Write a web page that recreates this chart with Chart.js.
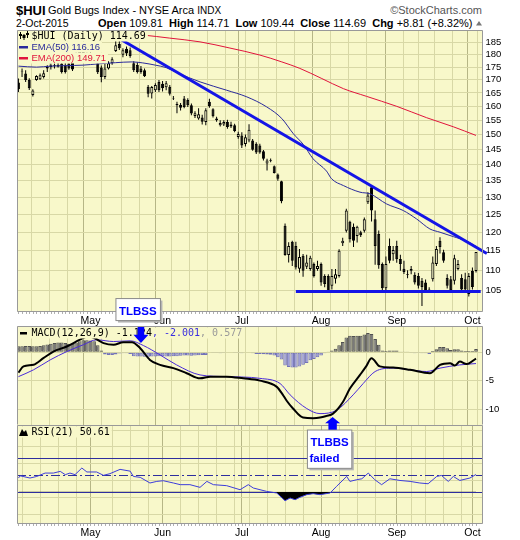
<!DOCTYPE html>
<html>
<head>
<meta charset="utf-8">
<title>$HUI Gold Bugs Index</title>
<script src="https://cdn.jsdelivr.net/npm/chart.js@4.4.1/dist/chart.umd.min.js"></script>
<style>
  html, body { margin: 0; background: #fff; overflow: hidden; }
  #page { position: relative; width: 520px; height: 540px; overflow: hidden; font-family: "Liberation Sans", Arial, sans-serif; }
  #page canvas { position: absolute; left: 0; }
  .t { position: absolute; white-space: nowrap; color: #000; }
  #notes { position: absolute; left: 0; top: 0; pointer-events: none; }
</style>
</head>
<body>
<div id="page">
  <div class="t" style="left:16px;top:4px;font-size:13px;line-height:13px;font-weight:bold">$HUI</div>
  <div class="t" style="left:48px;top:5px;font-size:11px;line-height:11px">Gold Bugs Index - NYSE Arca <span style="font-size:10px">INDX</span></div>
  <div class="t" style="right:38px;top:5px;font-size:11px;line-height:11px;color:#555">©StockCharts.com</div>
  <div class="t" style="left:16px;top:18px;font-size:10.5px;line-height:11px">2-Oct-2015</div>
  <div class="t" id="quote" style="left:98px;top:18px;font-size:11px;line-height:11px"></div>

  <canvas id="cPrice" width="520" height="296" style="top:30px"></canvas>
  <canvas id="cMacd" width="520" height="99" style="top:326px"></canvas>
  <canvas id="cRsi" width="520" height="115" style="top:425px"></canvas>
  <svg id="notes" width="520" height="540"></svg>
</div>
<script>
// daily bars, 2 Apr 2015 .. 2 Oct 2015 (128 trading days)
const open = [
  169.0,173.3,172.5,170.0,164.2,169.9,170.2,171.1,174.5,175.1,
  175.4,175.2,176.5,175.8,176.5,177.0,178.0,180.5,181.5,179.0,
  180.0,178.0,176.6,174.9,171.1,174.5,176.6,181.6,184.5,180.0,
  182.5,181.9,176.6,175.9,174.5,173.8,167.3,164.8,166.0,169.2,
  168.5,167.1,167.3,162.8,160.4,160.6,162.9,162.3,160.4,156.5,
  155.6,156.0,154.4,161.7,158.9,155.0,153.2,153.5,154.4,153.5,
  153.2,149.2,149.7,146.8,148.0,148.0,146.9,146.3,144.4,140.4,
  141.5,139.5,136.9,134.8,121.8,113.9,117.4,116.3,110.4,113.7,
  110.9,110.3,111.6,110.3,111.6,108.6,108.6,106.2,107.9,108.6,
  117.0,120.4,122.9,121.5,119.0,120.0,120.4,128.5,133.0,123.6,
  119.5,111.6,105.6,116.3,114.1,116.3,112.9,110.4,109.1,109.9,
  108.9,108.6,107.4,107.0,105.3,107.8,111.6,117.7,114.6,108.1,
  107.8,107.4,110.3,108.1,107.8,104.2,109.9,109.81
];
const high = [
  170.5,174.5,173.8,170.6,166.4,171.8,172.5,173.8,175.8,176.5,
  176.5,177.5,178.0,177.0,178.0,178.5,181.0,182.5,183.0,181.0,
  181.5,180.5,178.0,175.7,176.6,177.4,179.0,186.5,187.0,182.7,
  183.5,183.0,177.4,177.0,175.5,174.5,168.0,167.6,168.7,169.9,
  169.5,169.5,168.0,163.8,161.7,161.2,163.8,163.0,161.0,158.2,
  159.3,157.0,159.3,162.8,159.3,156.2,155.0,155.0,155.2,154.5,
  153.8,151.0,150.8,150.0,153.6,148.5,147.4,146.9,144.8,141.9,
  142.0,139.8,137.2,135.0,122.4,117.3,117.7,117.4,115.5,114.2,
  114.0,113.7,112.0,112.4,112.0,109.0,109.0,110.3,110.3,115.4,
  118.5,126.6,123.2,122.4,121.8,120.4,124.1,131.5,133.5,126.1,
  120.5,112.0,113.5,118.3,116.3,117.7,114.0,112.4,110.0,111.1,
  109.5,109.3,108.1,107.7,105.8,113.5,116.3,118.6,115.3,109.0,
  108.6,114.0,112.6,109.0,109.4,109.3,110.7,114.71
];
const low = [
  165.3,171.1,169.2,166.1,163.6,169.6,169.9,170.5,173.1,174.1,
  174.5,174.9,172.5,172.5,174.0,173.5,177.3,178.5,178.0,177.5,
  177.5,177.3,172.3,169.1,170.3,174.1,176.0,181.2,182.0,179.0,
  179.5,178.8,173.1,172.5,172.4,171.1,163.4,162.9,165.3,165.3,
  165.5,166.0,164.0,162.3,157.5,158.5,159.3,159.8,156.8,155.8,
  155.2,153.5,153.2,159.5,156.0,154.5,152.8,153.0,152.0,152.3,
  150.8,148.6,145.5,146.0,147.4,144.6,143.5,143.6,141.4,138.2,
  140.8,137.2,135.0,128.2,113.7,112.0,111.1,110.2,109.4,108.4,
  110.3,109.9,108.2,109.9,106.2,105.8,104.8,105.3,106.7,108.2,
  116.3,119.9,117.2,116.0,117.2,118.7,119.9,128.0,123.0,111.4,
  110.4,104.9,105.0,111.8,112.4,111.9,109.9,109.1,108.0,109.0,
  106.5,105.5,101.4,104.5,104.5,107.2,111.1,114.3,111.9,105.5,
  104.8,106.5,110.0,104.9,104.9,103.6,105.3,109.44
];
const close = [
  166.4,173.6,169.9,166.8,165.9,171.5,171.8,172.6,175.1,175.8,
  175.8,175.9,173.1,173.1,174.5,174.1,180.5,181.5,178.8,180.0,
  178.0,179.5,173.0,171.1,174.5,176.6,178.2,184.0,182.7,181.9,
  180.5,179.5,173.8,173.1,173.1,171.4,164.7,167.2,168.0,166.0,
  166.8,168.7,164.7,163.0,160.9,159.5,159.8,160.4,157.4,157.5,
  157.1,154.5,158.6,160.0,156.4,155.6,154.0,154.4,152.6,152.8,
  151.2,150.2,146.3,149.1,151.7,144.9,144.0,144.0,141.9,141.4,
  141.3,137.4,135.6,128.8,113.9,116.3,112.4,110.7,113.4,109.9,
  112.0,113.2,108.6,111.1,107.0,106.6,104.9,108.6,109.0,115.0,
  117.7,126.1,118.1,117.7,121.5,119.2,123.6,130.5,126.1,116.3,
  111.3,105.6,111.6,112.4,115.2,112.8,111.6,109.6,108.9,110.3,
  107.0,106.2,105.9,104.9,105.1,112.0,115.5,116.0,112.4,106.2,
  105.1,113.1,111.6,105.3,105.3,108.6,105.88,114.69
];

// [day index, value]
const ema50 = [[0,175.4],[5,175.0],[9,175.4],[13,175.6],[18,175.8],[22,176.3],[27,176.8],[31.5,177.1],
  [34.5,176.7],[38,175.8],[41,174.8],[44,172.8],[50.4,169.2],[57.8,166.0],[63.4,163.5],[68.9,159.8],
  [73.1,155.6],[76.3,150.3],[79.1,146.6],[81.8,141.9],[85.5,138.0],[86.9,135.6],[90.2,133.5],[94.8,131.5],
  [97.6,131.0],[102.2,128.0],[106.8,126.1],[110.5,123.7],[114.2,120.9],[117,120.0],[120.7,118.8],
  [124.4,117.6],[127,116.16]];
const ema200 = [[0,194.0],[8,192.2],[15,190.4],[20,190.0],[27,189.3],[34.7,188.3],[42,187.0],[50.4,185.4],
  [58.7,182.8],[67,179.9],[73.1,177.1],[78.1,174.5],[84.2,170.5],[90.2,166.6],[96.6,163.7],[105,160.0],
  [113.3,155.9],[120.7,152.7],[127,149.71]];
const trendLine = [[26.8,187.9],[130,114.3]];
const supportLine = [[77,104.8],[128.3,104.8]];

const macdLine = [[0,-3.6],[1.4,-2.5],[4.2,-2.2],[6.9,-1.06],[9.7,0.1],[13.4,1.0],[17.1,2.2],[19.5,2.8],
  [21.3,2.4],[23.6,1.6],[26.4,1.3],[29.1,1.76],[31.5,1.76],[33.8,0.7],[36.5,-1.36],[39.3,-2.24],[43,-2.8],
  [46.7,-3.7],[50.4,-4.6],[53.2,-4.3],[57.8,-4.3],[62.4,-4.6],[67,-5.0],[71.7,-6.1],[73.4,-7.5],[74.4,-8.5],
  [76.2,-9.9],[79,-11.5],[81.8,-11.6],[83.7,-11.5],[85.5,-11.2],[87.3,-10.8],[90.1,-8.7],[92,-6.4],
  [94.8,-4.0],[96.5,-2.5],[98,-1.06],[100.3,-2.5],[104,-2.7],[108.7,-3.1],[114.2,-3.7],[117,-2.24],
  [119.8,-1.94],[121.1,-2.36],[122.5,-1.66],[124.4,-2.1],[127,-1.12]];
const signalLine = [[0,-4.3],[4.2,-3.1],[8.8,-1.36],[13.4,0.1],[18,1.3],[21.7,2.17],[26.4,1.87],[31,2.0],
  [34.7,1.16],[39.3,-0.48],[43.9,-2.24],[50.4,-4.0],[57.8,-4.3],[67,-4.6],[72.6,-5.5],[75.4,-7.5],[80,-9.9],
  [83.7,-10.8],[88.3,-10.2],[92.9,-7.5],[95.7,-5.5],[99,-3.4],[104,-2.8],[108.7,-3.1],[113.3,-3.4],
  [117,-2.8],[122.5,-2.24],[127,-2.0]];
const macdHist = [
  1.06,1.06,1.1,1.1,1.06,1.06,1.1,1.2,1.35,
  1.5,1.6,1.7,1.7,1.6,1.5,1.5,1.7,
  1.9,2.1,2.1,2.05,1.9,1.2,0.3,
  -0.4,-0.5,-0.5,-0.4,-0.25,-0.2,-0.2,-0.3,
  -0.7,-0.75,-0.75,-0.8,-0.8,-0.75,-0.75,-0.7,-0.7,-0.75,-0.75,-0.7,-0.7,-0.65,-0.6,-0.6,-0.65,-0.6,-0.55,-0.5,-0.5,-0.1,
  -0.05,-0.05,-0.2,-0.05,0,0,-0.05,-0.05,-0.2,-0.1,-0.1,-0.2,-0.3,
  -0.3,-0.35,-0.4,-0.45,-0.6,-0.9,-1.3,-2.35,-2.6,-2.7,-2.7,-2.5,-2.2,-1.9,-1.4,-1.2,-0.9,-0.6,-0.2,
  0.1,0.3,0.6,1.2,1.8,2.6,2.9,2.85,2.9,2.9,3.1,3.35,3.2,2.3,1.3,0.3,
  0.2,0.3,0.3,0.3,0.1,0.05,0.05,-0.05,-0.2,-0.15,-0.2,-0.2,-0.3,
  0.2,0.5,0.9,0.9,0.7,0.4,0.5,0.5,0.3,0.2,0.2,0.2,0.577
];
const rsi = [[0,46.4],[0.5,49],[3.2,46.4],[5.1,48.3],[7.4,52.3],[9.7,52.3],[11.6,54.3],[13,50.4],[14.3,52.3],
  [15.7,50.4],[17.6,58.3],[19,53.6],[21.7,53.6],[23.6,49.6],[25.4,51.6],[28.2,56.7],[31,54.6],[31.9,48.3],
  [33.8,47.2],[36.5,40.5],[38.4,42.4],[40.2,43.2],[43,40.5],[44.9,38.5],[47.6,38.5],[50.4,35.3],[52.3,42.4],
  [54.1,38.5],[57.8,37.3],[61.5,32.5],[63.8,38.5],[65.2,34.5],[68.9,30.5],[71.7,28.6],[74,19.4],[75.4,22.6],
  [76.8,20.6],[78.1,23.4],[80,26.6],[81.8,27.8],[83.7,26.6],[86.5,28.6],[88.3,36.5],[91.1,48.3],[92,42.4],
  [93.9,44.4],[95.3,45.5],[97.1,52.3],[98.9,44.4],[100.8,38.5],[103.1,45.5],[105.9,43.5],[108.7,42.4],
  [111.4,40.5],[113.7,39.6],[116.1,48.3],[117.4,49.5],[119.3,42.4],[120.7,48.3],[122.5,43.5],[125.3,46.4],
  [127,50.61]];

const monthIdx = [20, 40, 62, 84, 105, 126];
const monthNames = ['May', 'Jun', 'Jul', 'Aug', 'Sep', 'Oct'];
const weekIdx = [1, 6, 11, 16, 26, 31, 36, 45, 50, 55, 60, 64, 69, 74, 79, 89, 94, 99, 109, 113, 118, 123];
const priceTicks = [105, 110, 115, 120, 125, 130, 135, 140, 145, 150, 155, 160, 165, 170, 175, 180, 185];
const macdTicks = [-10, -5, 0];
const rsiTicks = [10, 30, 50, 70, 90];
const macdLegend = ['-1.124', '-2.001', '0.577'];
const rsiLegend = '50.61';
const tlbssAt = [34.0, 1.6];
const tlbbsAt = [87.2, -11.4];

// ---- styling ----
const BG = '#f8f8ca';
const GRID = '#d8d8a6';
const GRID_M = '#b6b686';
const EDGE = '#999999';
const BLUE = '#1414e6';
const EMA50_C = '#2a2a9c';
const EMA200_C = '#e0143c';
const AXW = 37.5;
const AX_FONT = { family: 'Liberation Sans', size: 9.5 };
const gridIdx = [...weekIdx, ...monthIdx].sort((a, b) => a - b);
const last = close.length - 1;
const pts = a => a.map(p => ({ x: p[0], y: p[1] }));

document.getElementById('quote').innerHTML =
  '<b>Open</b> ' + open[last].toFixed(2) + '&nbsp; <b>High</b> ' + high[last].toFixed(2) +
  '&nbsp; <b>Low</b> ' + low[last].toFixed(2) + '&nbsp; <b>Close</b> ' + close[last].toFixed(2) +
  '&nbsp; <b>Chg</b> +' + (close[last] - close[last - 1]).toFixed(2) +
  ' (+' + ((close[last] / close[last - 1] - 1) * 100).toFixed(2) + '%)';

function timeAxis(showLabels, h) {
  return {
    type: 'linear', min: -0.4, max: 128.8, offset: false,
    afterBuildTicks: s => { s.ticks = gridIdx.map(v => ({ value: v })); },
    afterFit: s => { s.height = h; s.paddingLeft = 0; s.paddingRight = 0; },
    grid: { color: c => (c.tick && monthIdx.includes(c.tick.value)) ? GRID_M : GRID, drawTicks: false },
    border: { display: false },
    ticks: {
      display: showLabels, autoSkip: false, maxRotation: 0, padding: 3, color: '#000',
      font: { family: 'Liberation Sans', size: 10.5 },
      callback: v => { const k = monthIdx.indexOf(v); return k < 0 ? '' : monthNames[k]; }
    }
  };
}
function valueAxis(extra) {
  return Object.assign({
    position: 'right',
    afterFit: s => { s.width = AXW; s.paddingTop = 0; s.paddingBottom = 0; },
    grid: { color: GRID, drawTicks: false },
    border: { display: false },
    ticks: { padding: 3, color: '#000', font: AX_FONT }
  }, extra);
}

const panel = {
  id: 'panel',
  beforeDraw(ch) {
    const a = ch.chartArea, c = ch.ctx;
    c.save();
    c.fillStyle = BG;
    c.fillRect(a.left, a.top, a.right - a.left, a.bottom - a.top);
    c.restore();
  },
  afterDraw(ch, args, o) {
    const a = ch.chartArea, c = ch.ctx;
    const l = Math.round(a.left) + 0.5, r = Math.round(a.right) - 0.5;
    const t = Math.round(a.top) + 0.5, b = Math.round(a.bottom) - 0.5;
    c.save();
    c.strokeStyle = EDGE;
    c.lineWidth = 1;
    c.beginPath();
    c.moveTo(l, b); c.lineTo(l, t); c.lineTo(r, t); c.lineTo(r, b);
    if (o.bottom) c.lineTo(l, b);
    c.stroke();
    if (o.dayTicks) {
      c.strokeStyle = '#b0b0b0';
      c.beginPath();
      for (let i = 0; i <= last; i++) {
        const x = Math.round(ch.scales.x.getPixelForValue(i)) + 0.5;
        c.moveTo(x, b + 0.5); c.lineTo(x, b + 2.5);
      }
      c.stroke();
    }
    c.restore();
  }
};

function legendRow(c, a, x, y, parts) {
  let w = 0;
  parts.forEach(p => { c.font = p.font; w += c.measureText(p.text).width; });
  c.fillStyle = BG;
  c.fillRect(a.left + 1, y - 5.5, x - a.left + w + 1, 11);
  let cx = x;
  parts.forEach(p => {
    c.font = p.font;
    c.fillStyle = p.color;
    c.fillText(p.text, cx, y);
    cx += c.measureText(p.text).width;
  });
}

const MONO = '10px "DejaVu Sans Mono"';
const SANS = '9.5px "Liberation Sans"';

const priceLegend = {
  id: 'priceLegend',
  afterDatasetsDraw(ch) {
    const c = ch.ctx, a = ch.chartArea;
    c.save();
    c.textBaseline = 'middle';
    const x0 = a.left + 14.5;
    legendRow(c, a, x0, a.top + 6, [{ text: '$HUI (Daily) ' + close[last].toFixed(2), font: MONO, color: '#000' }]);
    legendRow(c, a, x0, a.top + 17, [{ text: 'EMA(50) ' + ema50[ema50.length - 1][1].toFixed(2), font: SANS, color: EMA50_C }]);
    legendRow(c, a, x0, a.top + 28, [{ text: 'EMA(200) ' + ema200[ema200.length - 1][1].toFixed(2), font: SANS, color: EMA200_C }]);
    c.fillStyle = EMA50_C; c.fillRect(a.left + 2, a.top + 16, 9, 2.5);
    c.fillStyle = EMA200_C; c.fillRect(a.left + 2, a.top + 27, 9, 2.5);
    // little candle glyph
    c.fillStyle = '#000';
    [[3, 2, 9, 4, 6], [6.5, 4, 10, 5, 8], [10, 1, 8, 3, 5]].forEach(([dx, wt, wb, bt, bb]) => {
      c.fillRect(a.left + dx, a.top + wt, 1, wb - wt);
      c.fillRect(a.left + dx - 1, a.top + bt, 3, bb - bt);
    });
    c.restore();
  }
};

const macdLegendPlugin = {
  id: 'macdLegend',
  afterDatasetsDraw(ch) {
    const c = ch.ctx, a = ch.chartArea;
    c.save();
    c.textBaseline = 'middle';
    legendRow(c, a, a.left + 14.5, a.top + 7, [
      { text: 'MACD(12,26,9) ' + macdLegend[0], font: MONO, color: '#000' },
      { text: ', ' + macdLegend[1], font: MONO, color: '#3a2ee0' },
      { text: ', ' + macdLegend[2], font: MONO, color: '#999' }
    ]);
    c.fillStyle = '#000';
    c.fillRect(a.left + 3, a.top + 6, 7, 2.5);
    c.restore();
  }
};

const rsiPlugin = {
  id: 'rsiLevels',
  beforeDatasetsDraw(ch) {
    const c = ch.ctx, a = ch.chartArea, y = ch.scales.y;
    c.save();
    c.strokeStyle = '#2e2e9e';
    c.lineWidth = 1;
    [70, 30, 50].forEach(v => {
      const py = Math.round(y.getPixelForValue(v)) + 0.5;
      c.setLineDash(v === 50 ? [9, 3, 2, 3] : []);
      c.beginPath(); c.moveTo(a.left, py); c.lineTo(a.right, py); c.stroke();
    });
    c.restore();
  },
  afterDatasetsDraw(ch) {
    const c = ch.ctx, a = ch.chartArea;
    c.save();
    c.textBaseline = 'middle';
    legendRow(c, a, a.left + 14.5, a.top + 7, [{ text: 'RSI(21) ' + rsiLegend, font: MONO, color: '#000' }]);
    c.fillStyle = '#000';
    c.beginPath();
    c.moveTo(a.left + 2, a.top + 11); c.lineTo(a.left + 5, a.top + 4); c.lineTo(a.left + 7, a.top + 7);
    c.lineTo(a.left + 9, a.top + 5); c.lineTo(a.left + 11, a.top + 11); c.closePath(); c.fill();
    c.restore();
  }
};

const common = {
  responsive: false, animation: false, events: [], devicePixelRatio: 1,
  layout: { padding: { left: 17, right: 0, top: 0, bottom: 0 } }
};

// ---- price panel ----
const priceChart = new Chart(document.getElementById('cPrice'), {
  type: 'bar',
  data: {
    datasets: [
      { type: 'line', data: pts(trendLine), borderColor: BLUE, borderWidth: 3, pointRadius: 0, order: 0,
        clip: { left: 0, top: 0, right: 6, bottom: 0 } },
      { type: 'line', data: pts(supportLine), borderColor: BLUE, borderWidth: 3, pointRadius: 0, order: 0 },
      { type: 'line', data: pts(ema50), borderColor: EMA50_C, borderWidth: 1, pointRadius: 0,
        cubicInterpolationMode: 'monotone', order: 2 },
      { type: 'line', data: pts(ema200), borderColor: EMA200_C, borderWidth: 1, pointRadius: 0,
        cubicInterpolationMode: 'monotone', order: 2 },
      { type: 'bar', data: close.map((cl, i) => ({ x: i, y: [Math.min(open[i], cl), Math.max(open[i], cl)] })),
        backgroundColor: close.map((cl, i) => cl >= open[i] ? BG : '#000'),
        borderColor: '#000', borderWidth: 1, borderSkipped: false, barThickness: 3,
        grouped: false, inflateAmount: 0, order: 4 },
      { type: 'bar', data: close.map((cl, i) => ({ x: i, y: [low[i], high[i]] })),
        backgroundColor: '#000', barThickness: 1, grouped: false, inflateAmount: 0, order: 5 }
    ]
  },
  options: Object.assign({}, common, {
    plugins: { legend: { display: false }, tooltip: { enabled: false }, panel: { bottom: true, dayTicks: true } },
    scales: {
      x: timeAxis(true, 14),
      y: valueAxis({
        type: 'logarithmic', min: 100, max: 190.5,
        afterBuildTicks: s => { s.ticks = priceTicks.map(v => ({ value: v })); },
        ticks: { padding: 3, color: '#000', font: AX_FONT, callback: v => String(v) }
      })
    }
  }),
  plugins: [panel, priceLegend]
});

// ---- MACD panel ----
const macdChart = new Chart(document.getElementById('cMacd'), {
  type: 'bar',
  data: {
    datasets: [
      { type: 'line', data: pts(macdLine), borderColor: '#000', borderWidth: 2, pointRadius: 0,
        cubicInterpolationMode: 'monotone', order: 0 },
      { type: 'line', data: pts(signalLine), borderColor: '#4a2bd9', borderWidth: 1, pointRadius: 0,
        cubicInterpolationMode: 'monotone', order: 1 },
      { type: 'bar', data: macdHist.map((v, i) => ({ x: i, y: v })),
        backgroundColor: macdHist.map(v => v >= 0 ? '#7a7a7a' : '#9d9dd8'),
        borderColor: macdHist.map(v => v >= 0 ? '#505050' : '#7272b8'),
        borderWidth: 1, borderSkipped: false, barThickness: 3.6, grouped: false, inflateAmount: 0, order: 3 }
    ]
  },
  options: Object.assign({}, common, {
    plugins: { legend: { display: false }, tooltip: { enabled: false }, panel: { bottom: false } },
    scales: {
      x: timeAxis(false, 0),
      y: valueAxis({
        type: 'linear', min: -12.8, max: 4.6,
        afterBuildTicks: s => { s.ticks = macdTicks.map(v => ({ value: v })); }
      })
    }
  }),
  plugins: [panel, macdLegendPlugin]
});

// ---- RSI panel ----
const rsiGrid = [];
for (let v = 10 - 20 / 3; v < 109; v += 20 / 3) rsiGrid.push(v);
const rsiChart = new Chart(document.getElementById('cRsi'), {
  type: 'line',
  data: {
    datasets: [
      { data: pts(rsi), borderColor: '#3d3ddb', borderWidth: 1, pointRadius: 0,
        fill: { target: { value: 30 }, above: 'rgba(0,0,0,0)', below: '#000' } }
    ]
  },
  options: Object.assign({}, common, {
    plugins: { legend: { display: false }, tooltip: { enabled: false }, panel: { bottom: true, dayTicks: true } },
    scales: {
      x: timeAxis(true, 16),
      y: valueAxis({
        type: 'linear', min: -8.3, max: 109.5,
        afterBuildTicks: s => { s.ticks = rsiGrid.map(v => ({ value: v })); },
        ticks: { padding: 3, color: '#000', font: AX_FONT,
          callback: v => { const t = rsiTicks.find(k => Math.abs(k - v) < 0.01); return t === undefined ? '' : String(t); } }
      })
    }
  }),
  plugins: [panel, rsiPlugin]
});

// ---- annotations (anchored on the MACD scales) ----
const svgNS = 'http://www.w3.org/2000/svg';
const svg = document.getElementById('notes');
function add(tag, attrs, text) {
  const el = document.createElementNS(svgNS, tag);
  for (const k in attrs) el.setAttribute(k, attrs[k]);
  if (text) el.textContent = text;
  svg.appendChild(el);
  return el;
}
function macdPt(p) {
  return [macdChart.scales.x.getPixelForValue(p[0]), 326 + macdChart.scales.y.getPixelForValue(p[1])];
}
const noteFont = { 'font-family': 'Liberation Sans', 'font-size': '11.5', 'font-weight': 'bold', fill: '#0000ff' };

// TLBSS: box above, arrow pointing down
{
  const [tx, ty] = macdPt(tlbssAt);
  const bx = tx - 25, by = ty - 44.5;
  add('rect', { x: bx + 2, y: by + 2, width: 44.5, height: 22, fill: '#b4b4b4' });
  add('rect', { x: bx, y: by, width: 44.5, height: 22, fill: '#fff', stroke: '#8a8a8a', 'stroke-width': 1 });
  add('text', Object.assign({ x: bx + 3, y: by + 16 }, noteFont), 'TLBSS');
  add('polygon', { fill: '#0000ff', points: [
    [tx - 3.3, ty - 16], [tx + 3.3, ty - 16], [tx + 3.3, ty - 8.3], [tx + 7.5, ty - 8.3],
    [tx, ty], [tx - 7.5, ty - 8.3], [tx - 3.3, ty - 8.3]].map(p => p.join(',')).join(' ') });
}
// TLBBS failed: arrow pointing up, box below
{
  const [tx, ty] = macdPt(tlbbsAt);
  const bx = tx - 25.2, by = ty + 13;
  add('polygon', { fill: '#0000ff', points: [
    [tx, ty], [tx + 7.5, ty + 6.3], [tx + 4.2, ty + 6.3], [tx + 4.2, by], [tx - 4.2, by],
    [tx - 4.2, ty + 6.3], [tx - 7.5, ty + 6.3]].map(p => p.join(',')).join(' ') });
  add('rect', { x: bx + 2, y: by + 2, width: 44.4, height: 38.3, fill: '#b4b4b4' });
  add('rect', { x: bx, y: by, width: 44.4, height: 38.3, fill: '#fff', stroke: '#8a8a8a', 'stroke-width': 1 });
  add('text', Object.assign({ x: bx + 3, y: by + 15.7 }, noteFont), 'TLBBS');
  add('text', Object.assign({ x: bx + 2, y: by + 31.7 }, noteFont), 'failed');
}
// small up-tick after the change figure
add('polygon', { fill: '#777', points: '476,25.5 482,25.5 479,21' });
</script>
</body>
</html>
